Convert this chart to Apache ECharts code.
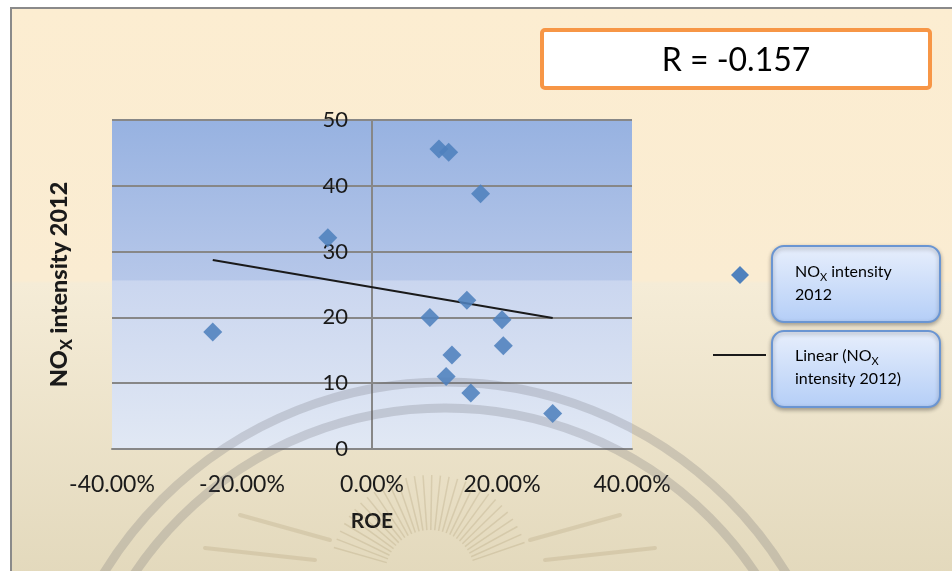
<!DOCTYPE html>
<html>
<head>
<meta charset="utf-8">
<title>NOx intensity 2012 vs ROE</title>
<script src="https://cdn.jsdelivr.net/npm/echarts@6/dist/echarts.min.js"></script>
<style>
  html, body { margin: 0; padding: 0; background: #ffffff; }
  #chart { width: 952px; height: 571px; }
</style>
</head>
<body>
<div id="chart"></div>
<script>
// Return on equity (%) per company
const roe = [-24.5, -6.8, 10.3, 11.8, 16.7, 14.6, 8.9, 20.0, 20.2, 12.3, 11.4, 15.2, 27.8];
// NOx intensity 2012 per company
const noxIntensity = [17.8, 32.1, 45.6, 45.1, 38.8, 22.6, 20.0, 19.65, 15.7, 14.3, 11.0, 8.5, 5.4];
// Axis ranges
const xRange = { min: -40, max: 40, step: 20 };
const yRange = { min: 0, max: 50, step: 10 };
const correlationText = 'R = -0.157';

const FONT = 'Lato, "Open Sans", sans-serif';

const GRID = { left: 112, right: 320, top: 120, bottom: 122 };
const plotWidth = 952 - GRID.left - GRID.right;
// the value axis crosses the horizontal axis at ROE = 0
const yAxisShift = plotWidth * (0 - xRange.min) / (xRange.max - xRange.min);

const points = roe.map((x, i) => [x, noxIntensity[i]]);

// Least-squares linear trend across the observed ROE span
function linearTrend(xs, ys) {
  const n = xs.length;
  const mx = xs.reduce((a, b) => a + b, 0) / n;
  const my = ys.reduce((a, b) => a + b, 0) / n;
  let sxy = 0, sxx = 0;
  for (let i = 0; i < n; i++) {
    sxy += (xs[i] - mx) * (ys[i] - my);
    sxx += (xs[i] - mx) * (xs[i] - mx);
  }
  const slope = sxy / sxx;
  const icpt = my - slope * mx;
  const x0 = Math.min(...xs), x1 = Math.max(...xs);
  return [[x0, icpt + slope * x0], [x1, icpt + slope * x1]];
}
const trend = linearTrend(roe, noxIntensity);

// Faded seal in the slide background: two rings and a fan of rays
function sealElements() {
  const els = [];
  const cx = 445, cy = 782;
  [400, 374].forEach(r => {
    els.push({
      type: 'circle', z: 1, silent: true,
      shape: { cx: cx, cy: cy, r: r },
      style: { fill: 'none', stroke: 'rgba(95,95,105,0.22)', lineWidth: 9 }
    });
  });
  const rx = 430, ry = 575;
  for (let a = 196; a <= 344; a += 5) {
    const rad = a * Math.PI / 180;
    const r0 = 45, r1 = (a % 10 === 0) ? 115 : 100;
    els.push({
      type: 'line', z: 1, silent: true,
      shape: {
        x1: rx + r0 * Math.cos(rad), y1: ry + r0 * Math.sin(rad),
        x2: rx + r1 * Math.cos(rad), y2: ry + r1 * Math.sin(rad)
      },
      style: { stroke: 'rgba(150,128,85,0.20)', lineWidth: 1.5 }
    });
  }
  // long wing strokes
  [[205, 548, 315, 560], [240, 515, 330, 540], [655, 548, 545, 560], [620, 515, 530, 540]].forEach(s => {
    els.push({
      type: 'line', z: 1, silent: true,
      shape: { x1: s[0], y1: s[1], x2: s[2], y2: s[3] },
      style: { stroke: 'rgba(150,128,85,0.18)', lineWidth: 4, lineCap: 'round' }
    });
  });
  return els;
}

const legendBoxFill = new echarts.graphic.LinearGradient(0, 0, 0, 1, [
  { offset: 0, color: '#E8EFFC' },
  { offset: 1, color: '#B4CEF7' }
]);

const legendTextRich = {
  t: { fontFamily: FONT, fontSize: 16, color: '#333333', lineHeight: 23 },
  s: { fontFamily: FONT, fontSize: 11, color: '#333333', verticalAlign: 'bottom', lineHeight: 11 }
};

function legendBox(y) {
  return {
    type: 'rect', z: 5, silent: true,
    shape: { x: 772, y: y, width: 168, height: 76, r: 12 },
    style: {
      fill: legendBoxFill, stroke: '#6A95D2', lineWidth: 2,
      shadowBlur: 4, shadowOffsetY: 2, shadowColor: 'rgba(0,0,0,0.30)'
    }
  };
}

const chart = echarts.init(document.getElementById('chart'), null, { renderer: 'canvas' });

chart.setOption({
  animation: false,
  textStyle: { fontFamily: FONT },
  grid: {
    left: GRID.left, right: GRID.right, top: GRID.top, bottom: GRID.bottom,
    containLabel: false,
    outerBoundsMode: 'none',
    show: true, borderWidth: 0,
    backgroundColor: new echarts.graphic.LinearGradient(0, 0, 0, 1, [
      { offset: 0, color: '#97B2E1' },
      { offset: 0.485, color: '#B6C7E9' },
      { offset: 0.49, color: '#CAD6EF' },
      { offset: 1, color: '#E1E8F4' }
    ])
  },
  xAxis: {
    type: 'value',
    min: xRange.min, max: xRange.max, interval: xRange.step,
    name: 'ROE',
    nameLocation: 'middle',
    nameGap: 62,
    nameTextStyle: { fontFamily: FONT, fontWeight: 'bold', fontSize: 21, color: '#1a1a1a' },
    axisLine: { show: true, onZero: false, lineStyle: { color: '#878787', width: 2 } },
    axisTick: { show: false },
    splitLine: { show: false },
    axisLabel: {
      fontFamily: FONT, fontSize: 23, color: '#1a1a1a', margin: 24,
      formatter: v => v.toFixed(2) + '%'
    }
  },
  yAxis: {
    type: 'value',
    position: 'left',
    offset: -yAxisShift,
    min: yRange.min, max: yRange.max, interval: yRange.step,
    name: '{n|NO}{s|X}{n| intensity 2012}',
    nameLocation: 'middle',
    nameRotate: 90,
    nameGap: 297,
    nameTextStyle: {
      rich: {
        n: { fontFamily: FONT, fontWeight: 900, fontSize: 23.5, color: '#1a1a1a', lineHeight: 31 },
        s: { fontFamily: FONT, fontWeight: 900, fontSize: 16, color: '#1a1a1a', verticalAlign: 'bottom', lineHeight: 16 }
      }
    },
    axisLine: { show: true, onZero: false, lineStyle: { color: '#878787', width: 2 } },
    axisTick: { show: false },
    splitLine: { show: true, lineStyle: { color: '#878787', width: 2 } },
    axisLabel: { fontFamily: FONT, fontSize: 22, color: '#1a1a1a', margin: 24 }
  },
  series: [
    {
      name: 'NOx intensity 2012',
      type: 'scatter',
      symbol: 'diamond',
      symbolSize: 19,
      z: 4,
      itemStyle: { color: '#4F81BD', opacity: 0.88 },
      data: points
    },
    {
      name: 'Linear (NOx intensity 2012)',
      type: 'line',
      z: 3,
      symbol: 'none',
      lineStyle: { color: '#1a1a1a', width: 2 },
      data: trend
    }
  ],
  graphic: [
    // slide background with frame
    {
      type: 'rect', z: -10, silent: true,
      shape: { x: 11, y: 8, width: 960, height: 580 },
      style: {
        fill: new echarts.graphic.LinearGradient(0, 0, 0, 1, [
          { offset: 0, color: '#FCEDD1' },
          { offset: 0.47, color: '#FAECD2' },
          { offset: 0.475, color: '#F5ECD7' },
          { offset: 1, color: '#E2D8BB' }
        ]),
        stroke: '#8A8A8A', lineWidth: 2
      }
    },
    ...sealElements(),
    // correlation box
    {
      type: 'rect', z: 5, silent: true,
      shape: { x: 542, y: 30, width: 388, height: 58, r: 3 },
      style: { fill: '#ffffff', stroke: '#F79646', lineWidth: 4 }
    },
    {
      type: 'text', z: 6, silent: true,
      x: 736, y: 61,
      style: {
        text: correlationText, fontFamily: FONT, fontSize: 32, fill: '#000000',
        align: 'center', verticalAlign: 'middle'
      }
    },
    // legend
    legendBox(246),
    legendBox(331),
    {
      type: 'polygon', z: 6, silent: true,
      shape: { points: [[740, 266], [749, 275], [740, 284], [731, 275]] },
      style: { fill: '#4F81BD' }
    },
    {
      type: 'line', z: 6, silent: true,
      shape: { x1: 713, y1: 355, x2: 766, y2: 355 },
      style: { stroke: '#1a1a1a', lineWidth: 2 }
    },
    {
      type: 'text', z: 6, silent: true,
      x: 795, y: 260,
      style: { text: '{t|NO}{s|X}{t| intensity}\n{t|2012}', rich: legendTextRich }
    },
    {
      type: 'text', z: 6, silent: true,
      x: 795, y: 344,
      style: { text: '{t|Linear (NO}{s|X}\n{t|intensity 2012)}', rich: legendTextRich }
    }
  ]
});
</script>
</body>
</html>
